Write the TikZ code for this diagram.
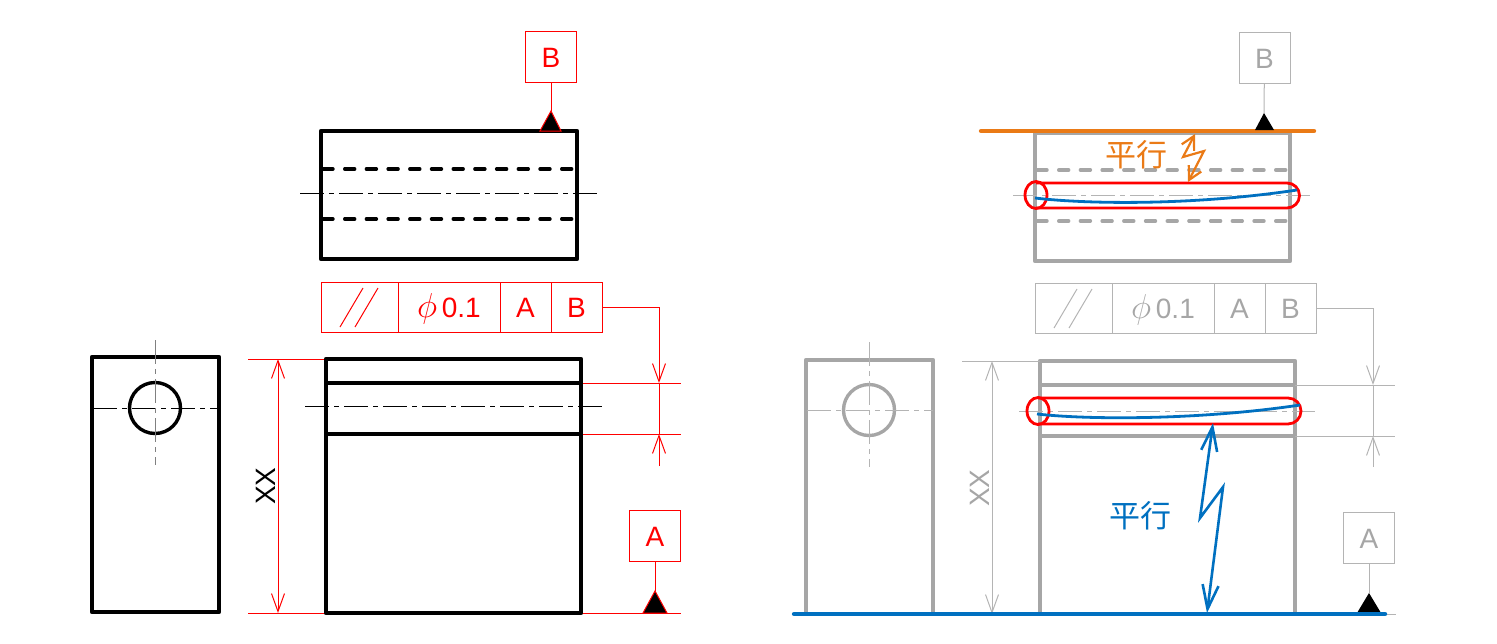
\documentclass[tikz,border=0pt]{standalone}
\usepackage{fontspec}
\setmainfont{Liberation Sans}
\newfontfamily\cjk{Noto Sans CJK JP}
\usetikzlibrary{arrows.meta}

\definecolor{partgray}{HTML}{A6A6A6}
\definecolor{thingray}{HTML}{B4B4B4}
\definecolor{linered}{HTML}{FF0000}
\definecolor{lineorange}{HTML}{EA7A16}
\definecolor{lineblue}{HTML}{0070C0}

\begin{document}
\begin{tikzpicture}[x=0.5pt,y=-0.5pt]
	\tikzstyle{outline} = [line width=2.2pt,line join=round]
	\tikzstyle{thin line} = [line width=0.5pt]
	\tikzstyle{hidden line} = [line width=1.7pt,dash pattern=on 5pt off 5.85pt,line cap=round]
	\tikzstyle{center line} = [line width=0.45pt,dash pattern=on 12pt off 2.5pt on 2.5pt off 2.5pt]
	\tikzstyle{dim arrow} = [{Straight Barb[length=9pt,width=6.5pt]}-{Straight Barb[length=9pt,width=6.5pt]}]
	\tikzstyle{tip arrow} = [-{Straight Barb[length=9pt,width=6.5pt]}]
	\tikzstyle{datum box} = [draw,thin line,minimum width=25.5pt,minimum height=25.5pt,inner sep=0pt,text height=10pt,text depth=0pt,font=\fontsize{14}{14}\selectfont]
	\tikzstyle{frame cell} = [draw,thin line,minimum height=25pt,inner sep=0pt,text height=10pt,text depth=0pt,font=\fontsize{14}{14}\selectfont]
	\tikzstyle{part label} = [font=\fontsize{15.5}{15.5}\selectfont\cjk,inner sep=0pt]
	\tikzstyle{slot line} = [linered,line width=1.4pt]
	\useasboundingbox (0,0) rectangle (1497,643);

	% left drawing: top view
	\draw[outline] (321,131) rectangle (577,259);
	\draw[hidden line] (323,169) -- (575,169);
	\draw[hidden line] (323,219) -- (575,219);
	\draw[center line] (300,193) -- (600,193);

	\node[datum box,draw=linered,text=linered] (boxB) at (551,57) {B};
	\coordinate (apexB) at (551,111);
	\draw[thin line,linered] (boxB) -- (apexB);
	\draw[thin line,draw=linered,fill=black] (apexB) -- (561,131) -- (540,131) -- cycle;

	% left drawing: tolerance frame
	\node[frame cell,draw=linered,text=linered,minimum width=38.5pt] (symL) at (359.5,307) {};
	\node[frame cell,draw=linered,text=linered,minimum width=51pt] (tolL) at (449,307) {{\fontsize{17}{17}\selectfont$\phi$}\,0.1};
	\node[frame cell,draw=linered,text=linered,minimum width=25.5pt] (refAL) at (525.5,307) {A};
	\node[frame cell,draw=linered,text=linered,minimum width=25.5pt] (refBL) at (576.5,307) {B};
	\draw[thin line,linered] (340,327) -- (363,288);
	\draw[thin line,linered] (355,327) -- (378,288);
	\coordinate (tipUpL) at (659,383);
	\coordinate (tipLowL) at (659,434);
	\coordinate (endLowL) at (659,466);
	\draw[thin line,linered,tip arrow] (refBL.east) -| (tipUpL);
	\draw[thin line,linered,tip arrow] (endLowL) -- (tipLowL);
	\draw[thin line,linered] (tipUpL) -- (tipLowL);

	% left drawing: front view
	\draw[thin line,linered] (581,383) -- (681,383);
	\draw[thin line,linered] (581,434) -- (681,434);
	\draw[thin line,linered] (248,359) -- (326,359);
	\draw[thin line,linered] (248,613) -- (326,613);
	\draw[thin line,linered] (581,613) -- (681,613);
	\draw[outline] (326,359) rectangle (581,613);
	\draw[outline] (326,383) -- (581,383);
	\draw[outline] (326,434) -- (581,434);
	\draw[center line] (305,406) -- (606,406);
	\draw[thin line,linered,dim arrow] (278,359) -- (278,613);
	\node[rotate=90,inner sep=0pt,font=\fontsize{14}{14}\selectfont] (sizeL) at (266,486) {XX};

	\node[datum box,draw=linered,text=linered] (boxA) at (655,536) {A};
	\coordinate (apexA) at (655,591);
	\draw[thin line,linered] (boxA) -- (apexA);
	\draw[thin line,draw=linered,fill=black] (apexA) -- (667,613) -- (643,613) -- cycle;

	% left drawing: side view
	\draw[outline] (92,357) rectangle (219,612);
	\node[circle,draw,line width=1.7pt,minimum size=25.5pt,inner sep=0pt] (holeL) at (155,408) {};
	\draw[center line] (93,408) -- (219,408);
	\draw[center line,gray] (155,340) -- (155,465);

	% right drawing: top view
	\draw[outline,partgray] (1035,133) rectangle (1290,261);
	\draw[hidden line,partgray] (1037,170) -- (1288,170);
	\draw[hidden line,partgray] (1037,221) -- (1288,221);
	\draw[center line,thingray] (1013,195) -- (1314,195);

	\node[datum box,draw=thingray,text=partgray] (grayB) at (1264.5,58) {B};
	\coordinate (grayApexB) at (1264,113);
	\draw[thin line,thingray] (grayB) -- (grayApexB);
	\draw[outline,lineorange,line cap=round] (981,131) -- (1314,131);
	\fill[black] (grayApexB) -- (1274,130) -- (1255,130) -- cycle;

	\draw[slot line] (1036,183) -- (1287,183) arc (-90:90:12.5) -- (1036,208);
	\draw[slot line] (1036,195) ellipse (11 and 13.5);
	\draw[line width=1.4pt,lineblue] (1035,198) .. controls (1085,204) and (1190,206) .. (1297,190);
	\node[part label,text=lineorange] (noteTop) at (1136,155) {平行};
	\draw[line width=1.1pt,lineorange,{Straight Barb[length=6.5pt,width=7pt]}-{Straight Barb[length=6.5pt,width=7pt]}] (1195,134) -- (1183,157) -- (1204,151) -- (1188,182);

	% right drawing: tolerance frame
	\node[frame cell,draw=thingray,text=partgray,minimum width=38.5pt] (symR) at (1073.5,308) {};
	\node[frame cell,draw=thingray,text=partgray,minimum width=51pt] (tolR) at (1163,308) {{\fontsize{17}{17}\selectfont$\phi$}\,0.1};
	\node[frame cell,draw=thingray,text=partgray,minimum width=25.5pt] (refAR) at (1239.5,308) {A};
	\node[frame cell,draw=thingray,text=partgray,minimum width=25.5pt] (refBR) at (1290.5,308) {B};
	\draw[thin line,thingray] (1054,328) -- (1077,289);
	\draw[thin line,thingray] (1069,328) -- (1092,289);
	\coordinate (tipUpR) at (1373,385);
	\coordinate (tipLowR) at (1373,436);
	\coordinate (endLowR) at (1373,467);
	\draw[thin line,thingray,tip arrow] (refBR.east) -| (tipUpR);
	\draw[thin line,thingray,tip arrow] (endLowR) -- (tipLowR);
	\draw[thin line,thingray] (tipUpR) -- (tipLowR);

	% right drawing: side view
	\draw[outline,partgray] (806,360) rectangle (933,614);
	\node[circle,draw=partgray,line width=1.7pt,minimum size=25.5pt,inner sep=0pt] (holeR) at (869,410) {};
	\draw[center line,thingray] (807,410) -- (933,410);
	\draw[center line,thingray] (869,342) -- (869,467);

	% right drawing: front view
	\draw[outline,partgray] (1040,361) rectangle (1295,614);
	\draw[outline,partgray] (1040,385) -- (1295,385);
	\draw[outline,partgray] (1040,436) -- (1295,436);
	\draw[center line,thingray] (1019,411) -- (1315,411);
	\draw[thin line,thingray] (1295,385) -- (1395,385);
	\draw[thin line,thingray] (1295,436) -- (1395,436);
	\draw[thin line,thingray] (962,361) -- (1040,361);
	\draw[thin line,thingray,dim arrow] (992,361) -- (992,614);
	\node[rotate=90,inner sep=0pt,text=partgray,font=\fontsize{14}{14}\selectfont] (sizeR) at (980,488) {XX};

	\draw[slot line] (1038,398) -- (1288,398) arc (-90:90:13) -- (1038,424);
	\draw[slot line] (1038,411) ellipse (11 and 13.5);
	\draw[line width=1.4pt,lineblue] (1037,414) .. controls (1090,420) and (1200,420) .. (1300,405);

	\node[datum box,draw=thingray,text=partgray] (grayA) at (1369,538) {A};
	\coordinate (grayApexA) at (1369,593);
	\draw[thin line,thingray] (grayA) -- (grayApexA);
	\draw[thin line,thingray] (1295,614) -- (1396,614);
	\fill[black] (grayApexA) -- (1381,613) -- (1357,613) -- cycle;
	\draw[outline,lineblue,line cap=round] (794,614) -- (1385,614);

	\node[part label,text=lineblue] (noteBase) at (1140,516) {平行};
	\draw[line width=1.3pt,lineblue,{Straight Barb[length=12pt,width=8pt]}-{Straight Barb[length=12pt,width=8pt]}] (1213,423) -- (1200,518) -- (1223,487) -- (1207,613);
\end{tikzpicture}
\end{document}
